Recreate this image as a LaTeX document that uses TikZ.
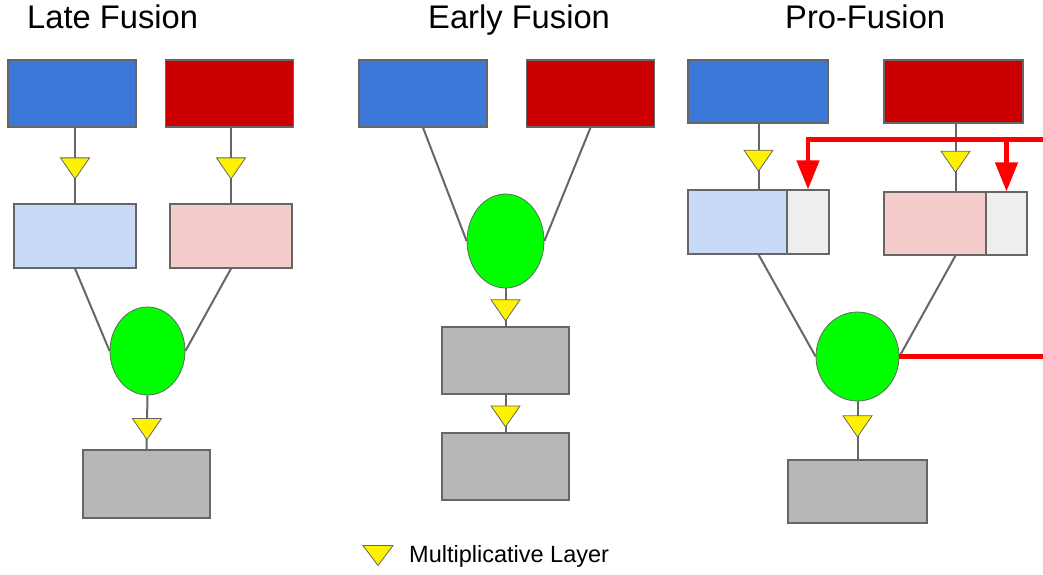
\documentclass[tikz,border=0pt]{standalone}
\usepackage{fontspec}
\setmainfont{Liberation Sans}
\usetikzlibrary{shapes.geometric,arrows.meta}

\definecolor{inblue}{HTML}{3C78D8}
\definecolor{inred}{HTML}{CC0000}
\definecolor{featblue}{HTML}{C9DAF8}
\definecolor{featred}{HTML}{F4CCCC}
\definecolor{maskgray}{HTML}{EEEEEE}
\definecolor{outgray}{HTML}{B7B7B7}
\definecolor{edgegray}{HTML}{666666}
\definecolor{fusegreen}{HTML}{00FF00}

\begin{document}
\begin{tikzpicture}[x=1pt, y=-1pt,
    box/.style={draw=edgegray, line width=1.2pt, inner sep=0pt},
    inbox/.style={box, minimum width=128pt, minimum height=67pt},
    featbox/.style={box, minimum width=122pt, minimum height=64pt},
    outbox/.style={box, fill=outgray, minimum width=127pt, minimum height=67pt},
    fuse/.style={ellipse, draw=edgegray, line width=0.8pt, fill=fusegreen, inner sep=0pt},
    mult/.style={isosceles triangle, isosceles triangle apex angle=70,
        isosceles triangle stretches, shape border rotate=-90,
        minimum width=29pt, minimum height=21pt, inner sep=0pt,
        draw=edgegray, line width=0.8pt, fill=yellow},
    link/.style={draw=edgegray, line width=2pt},
    gate/.style={draw=red, line width=4.5pt, -{Triangle[width=22pt,length=29pt]}},
    title/.style={font=\fontsize{32.7}{36}\selectfont, anchor=base west, inner sep=0pt}]
    \useasboundingbox (0,0) rectangle (1043,574);

    % titles
    \node[title] (tlate) at (27,28) {Late Fusion};
    \node[title] (tearly) at (428,28) {Early Fusion};
    \node[title] (tpro) at (785,28) {Pro-Fusion};

    % Late fusion
    \node[inbox, fill=inblue] (lb) at (72,93.5) {};
    \node[inbox, fill=inred] (lr) at (229.5,93.5) {};
    \node[featbox, fill=featblue] (lfb) at (75,236) {};
    \node[featbox, fill=featred] (lfr) at (231,236) {};
    \node[fuse, minimum width=75pt, minimum height=88pt] (lfuse) at (147.5,351) {};
    \node[outbox, minimum height=68pt] (lout) at (146.5,484) {};
    \draw[link] (lb.south -| lfb.north) -- node[mult]{} (lfb.north);
    \draw[link] (lr.south -| lfr.north) -- node[mult]{} (lfr.north);
    \draw[link] (lfb.south) -- (lfuse.west);
    \draw[link] (lfr.south) -- (lfuse.east);
    \draw[link] (lfuse.south) -- node[mult, pos=0.57]{} (lout.north);

    % Early fusion
    \node[inbox, fill=inblue] (eb) at (423,93.5) {};
    \node[inbox, fill=inred] (er) at (590.5,93.5) {};
    \node[fuse, minimum width=77pt, minimum height=94pt] (efuse) at (505.5,241) {};
    \node[outbox] (eout) at (505.5,360.5) {};
    \node[outbox] (eout2) at (505.5,466.5) {};
    \draw[link] (eb.south) -- (efuse.west);
    \draw[link] (er.south) -- (efuse.east);
    \draw[link] (efuse.south) -- node[mult]{} (eout.north);
    \draw[link] (eout.south) -- node[mult]{} (eout2.north);

    % Pro-fusion
    \node[box, fill=inblue, minimum width=140pt, minimum height=63pt] (pb) at (758,91.5) {};
    \node[box, fill=inred, minimum width=139pt, minimum height=63pt] (pr) at (953.5,91.5) {};
    \node[box, fill=featblue, minimum width=141pt, minimum height=64pt] (pfb) at (758.5,222) {};
    \node[box, fill=maskgray, minimum width=42pt, minimum height=64pt, anchor=east] (pmb) at (pfb.east) {};
    \node[box, fill=featred, minimum width=143pt, minimum height=63pt] (pfr) at (955.5,223.5) {};
    \node[box, fill=maskgray, minimum width=41pt, minimum height=63pt, anchor=east] (pmr) at (pfr.east) {};
    \node[fuse, minimum width=83pt, minimum height=89pt] (pfuse) at (857.5,356.5) {};
    \node[outbox, minimum width=139pt, minimum height=63pt] (pout) at (857.5,491.5) {};
    \draw[link] (pb.south -| pfb.north) -- node[mult, pos=0.52]{} (pfb.north);
    \draw[link] (pr.south -| pfr.north) -- node[mult, pos=0.52]{} (pfr.north);
    \draw[link] (pfb.south) -- (pfuse.west);
    \draw[link] (pfr.south) -- (pfuse.east);
    \draw[link] (pfuse.south) -- node[mult, pos=0.38]{} (pout.north);

    % feedback from the fused output
    \coordinate (top) at (1043,139.5);
    \coordinate (back) at (1043,356.5);
    \draw[red, line width=4.5pt] (pfuse.east) -- (back);
    \draw[gate] (top) -| (pmb.north);
    \draw[gate] (pmr.north |- top) -- (pmr.north);

    % legend
    \node[mult, minimum width=30pt, minimum height=20pt] (key) at (378,553) {};
    \node[anchor=base west, inner sep=0pt, font=\fontsize{23.5}{26}\selectfont] (keytext) at (409,562) {Multiplicative Layer};
\end{tikzpicture}
\end{document}
